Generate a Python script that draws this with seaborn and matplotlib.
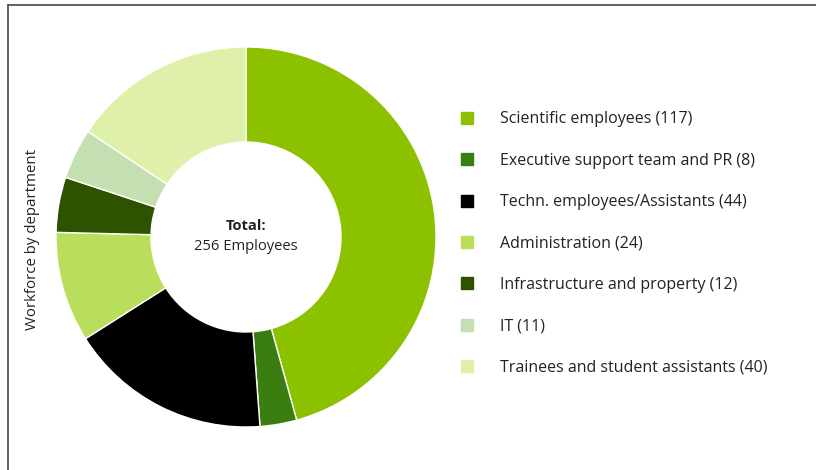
import matplotlib
matplotlib.use("Agg")
import matplotlib.pyplot as plt
from matplotlib.lines import Line2D
import seaborn as sns

departments = [
    "Scientific employees",
    "Executive support team and PR",
    "Techn. employees/Assistants",
    "Administration",
    "Infrastructure and property",
    "IT",
    "Trainees and student assistants",
]
headcount = [117, 8, 44, 24, 12, 11, 40]
colors = ["#8cc100", "#3a7d10", "#000000", "#b9de5c", "#2d5200", "#c4dfb2", "#def0a9"]

sns.set_theme(style="white")
plt.rcParams["font.family"] = ["Open Sans", "DejaVu Sans"]

fig = plt.figure(figsize=(8.16, 4.70), dpi=100)
W, H = 816, 470

# donut axes: square region in pixel units
cx, cy, r = 246, 237, 190
ax = fig.add_axes([(cx - r) / W, (H - cy - r) / H, 2 * r / W, 2 * r / H])
ax.pie(
    headcount,
    colors=colors,
    startangle=90,
    counterclock=False,
    radius=1.0,
    wedgeprops=dict(width=0.5, edgecolor="white", linewidth=1.0),
)
ax.set_xlim(-1, 1)
ax.set_ylim(-1, 1)
ax.set_aspect("equal")
ax.axis("off")

total = sum(headcount)
ax.text(0, 0.06, "Total:", ha="center", va="center", fontsize=10.6, fontweight="bold", color="#222222")
ax.text(0, -0.05, f"{total} Employees", ha="center", va="center", fontsize=10.6, color="#222222")

# legend
handles = [
    Line2D([0], [0], marker="s", linestyle="none", markersize=8.5,
           markerfacecolor=c, markeredgecolor=c)
    for c in colors
]
labels = [f"{d} ({n})" for d, n in zip(departments, headcount)]
fig.legend(
    handles, labels,
    loc="upper left",
    bbox_to_anchor=(451 / W, 1 - 103.5 / H),
    frameon=False,
    fontsize=11.5,
    labelspacing=1.59,
    handlelength=1.0,
    handletextpad=1.58,
    borderpad=0,
    labelcolor="#222222",
)

fig.text(33 / W, 1 - 240 / H, "Workforce by department", rotation=90,
         ha="center", va="center", fontsize=10.8, color="#222222")

# frame lines along top and left
fig.add_artist(Line2D([8 / W, 1], [1 - 4.5 / H, 1 - 4.5 / H], transform=fig.transFigure,
                      color="#555555", linewidth=1.3))
fig.add_artist(Line2D([8 / W, 8 / W], [0, 1 - 4.5 / H], transform=fig.transFigure,
                      color="#555555", linewidth=1.3))

fig.savefig("out.png", dpi=100, facecolor="white")
